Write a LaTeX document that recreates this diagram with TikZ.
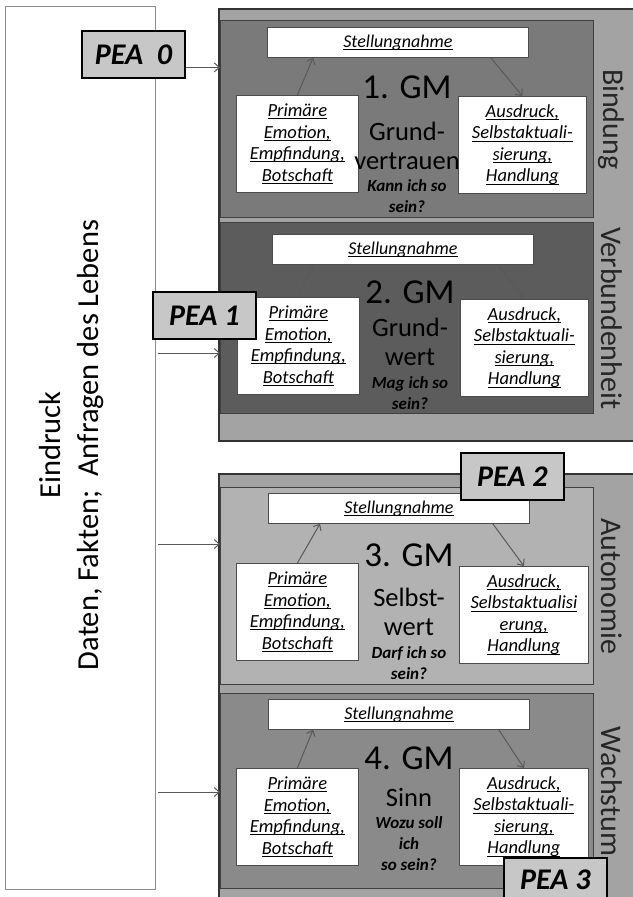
\documentclass[tikz,border=0pt]{standalone}
\usepackage{fontspec}
\setmainfont{Carlito}
\usetikzlibrary{arrows.meta,positioning,calc}
\colorlet{cframe}{black!36}
\colorlet{cgmone}{black!52}
\colorlet{cgmtwo}{black!64}
\colorlet{cgmthree}{black!30}
\colorlet{cgmfour}{black!46}
\colorlet{cpea}{black!22}
\newcommand\gmfont{\fontsize{35}{38}\selectfont}
\newcommand\valfont{\fontsize{26.5}{29}\selectfont}
\newcommand\askfont{\fontsize{17}{21}\selectfont\bfseries\itshape}
\newcommand\notefont{\fontsize{18.5}{21.5}\selectfont\itshape}
\newcommand\stellfont{\fontsize{18}{20}\selectfont\itshape}
\newcommand\peafont{\fontsize{30}{32}\selectfont\bfseries\itshape}
\newcommand\sidefont{\fontsize{30}{32}\selectfont}
\newcommand\leftfont{\fontsize{30.5}{38}\selectfont}
\newsavebox\ulinbox
\newcommand\ulin[1]{\sbox\ulinbox{#1}\rlap{\rule[-2.8pt]{\wd\ulinbox}{1pt}}\usebox\ulinbox}

\begin{document}
\begin{tikzpicture}[x=1pt,y=-1pt,
  frame/.style={draw=black!80,line width=1.6pt,fill=cframe,anchor=north west,inner sep=0pt,minimum width=430pt},
  gmbox/.style={draw=black!75,line width=1.4pt,anchor=north west,inner sep=0pt,minimum width=373pt},
  whitebox/.style={draw=black!70,line width=0.8pt,fill=white,anchor=north west,inner sep=0pt,align=center},
  notebox/.style={whitebox,minimum width=122pt,minimum height=97pt,font=\notefont},
  stellbox/.style={whitebox,minimum width=261pt,minimum height=30pt,font=\stellfont},
  peabox/.style={draw=black,line width=1.8pt,fill=cpea,anchor=north west,minimum width=103pt,minimum height=47pt,inner sep=0pt,font=\peafont},
  flow/.style={-{Straight Barb[length=5pt,width=9pt]},draw=black!65,line width=1pt},
  sidelabel/.style={rotate=-90,font=\sidefont,text=black!85},
]
\useasboundingbox (0,0) rectangle (632,897);

% left column
\node[draw=black!45,line width=1.2pt,fill=white,anchor=north west,minimum width=150pt,minimum height=883pt,inner sep=0pt] (eindruck) at (5,6) {};
\node[rotate=90,align=center,font=\leftfont] (eindrucktext) at (72,445) {Eindruck\\Daten, Fakten;\ \ Anfragen des Lebens};

% frames
\node[frame,minimum height=432pt] (upper) at (218,8) {};
\node[frame,minimum height=432pt] (lower) at (218,473) {};

% the four GM boxes
\node[gmbox,fill=cgmone,minimum height=197pt] (box1) at (220,20) {};
\node[gmbox,fill=cgmtwo,minimum height=191pt] (box2) at (220,222) {};
\node[gmbox,fill=cgmthree,minimum height=197pt] (box3) at (220,487) {};
\node[gmbox,fill=cgmfour,minimum height=195pt] (box4) at (220,693) {};

\node[sidelabel] (bind) at ([xshift=17pt]box1.east) {Bindung};
\node[sidelabel] (verb) at ([xshift=17pt]box2.east) {Verbundenheit};
\node[sidelabel] (auto) at ([xshift=17pt]box3.east) {Autonomie};
\node[sidelabel] (wach) at ([xshift=17pt]box4.east) {Wachstum};

% box 1
\node[stellbox] (stell1) at (267,27) {\ulin{Stellungnahme}};
\node[notebox] (emo1) at (236,95) {\ulin{Primäre}\\\ulin{Emotion,}\\\ulin{Empfindung,}\\\ulin{Botschaft}};
\node[notebox,minimum width=128pt] (aus1) at (458,96) {\ulin{Ausdruck,}\\\ulin{Selbstaktuali-}\\\ulin{sierung,}\\\ulin{Handlung}};
\node[font=\gmfont] (gm1) at (407,87) {1. GM};
\node[font=\valfont,align=center] (val1) at (407,146) {Grund-\\vertrauen};
\node[font=\askfont,align=center] (ask1) at (407,196) {Kann ich so\\sein?};
\draw[flow] (emo1.north) -- ([xshift=46pt]stell1.south west);
\draw[flow] ([xshift=-38pt]stell1.south east) -- (aus1.north);

% box 2
\node[stellbox] (stell2) at (272,234) {\ulin{Stellungnahme}};
\node[notebox] (emo2) at (237,297) {\ulin{Primäre}\\\ulin{Emotion,}\\\ulin{Empfindung,}\\\ulin{Botschaft}};
\node[notebox,minimum width=128pt] (aus2) at (460,299) {\ulin{Ausdruck,}\\\ulin{Selbstaktuali-}\\\ulin{sierung,}\\\ulin{Handlung}};
\node[font=\gmfont] (gm2) at (410,292) {2. GM};
\node[font=\valfont,align=center] (val2) at (410,342) {Grund-\\wert};
\node[font=\askfont,align=center] (ask2) at (410,393) {Mag ich so\\sein?};
\draw[flow] (emo2.north) -- ([xshift=40pt]stell2.south west);
\draw[flow] ([xshift=-36pt]stell2.south east) -- (aus2.north);

% box 3
\node[stellbox] (stell3) at (268,493) {\ulin{Stellungnahme}};
\node[notebox] (emo3) at (236,563) {\ulin{Primäre}\\\ulin{Emotion,}\\\ulin{Empfindung,}\\\ulin{Botschaft}};
\node[notebox,minimum width=129pt] (aus3) at (459,566) {\ulin{Ausdruck,}\\\ulin{Selbstaktualisi}\\\ulin{erung,}\\\ulin{Handlung}};
\node[font=\gmfont] (gm3) at (409,555) {3. GM};
\node[font=\valfont,align=center] (val3) at (409,612) {Selbst-\\wert};
\node[font=\askfont,align=center] (ask3) at (409,663) {Darf ich so\\sein?};
\draw[flow] (emo3.north) -- ([xshift=52pt]stell3.south west);
\draw[flow] ([xshift=-37pt]stell3.south east) -- (aus3.north);

% box 4
\node[stellbox] (stell4) at (268,699) {\ulin{Stellungnahme}};
\node[notebox] (emo4) at (236,768) {\ulin{Primäre}\\\ulin{Emotion,}\\\ulin{Empfindung,}\\\ulin{Botschaft}};
\node[notebox,minimum width=129pt] (aus4) at (459,768) {\ulin{Ausdruck,}\\\ulin{Selbstaktuali-}\\\ulin{sierung,}\\\ulin{Handlung}};
\node[font=\gmfont] (gm4) at (409,758) {4. GM};
\node[font=\valfont] (val4) at (409,797) {Sinn};
\node[font=\askfont,align=center] (ask4) at (409,844) {Wozu soll\\ich\\so sein?};
\draw[flow] (emo4.north) -- ([xshift=45pt]stell4.south west);
\draw[flow] ([xshift=-31pt]stell4.south east) -- (aus4.north);

% PEA labels
\node[peabox] (pea0) at (81,30) {PEA\ \ 0};
\node[peabox] (pea1) at (152,291) {PEA 1};
\node[peabox] (pea2) at (460,452) {PEA 2};
\node[peabox,minimum height=44pt] (pea3) at (503,857) {PEA 3};

% inputs
\coordinate (in1) at ([yshift=-13pt]pea0.east);
\coordinate (in2) at (158,353);
\coordinate (in3) at (158,544);
\coordinate (in4) at (158,792);
\draw[flow] (in1) -- (in1 -| box1.west);
\draw[flow] (in2) -- (in2 -| box2.west);
\draw[flow] (in3) -- (in3 -| box3.west);
\draw[flow] (in4) -- (in4 -| box4.west);
\end{tikzpicture}
\end{document}
